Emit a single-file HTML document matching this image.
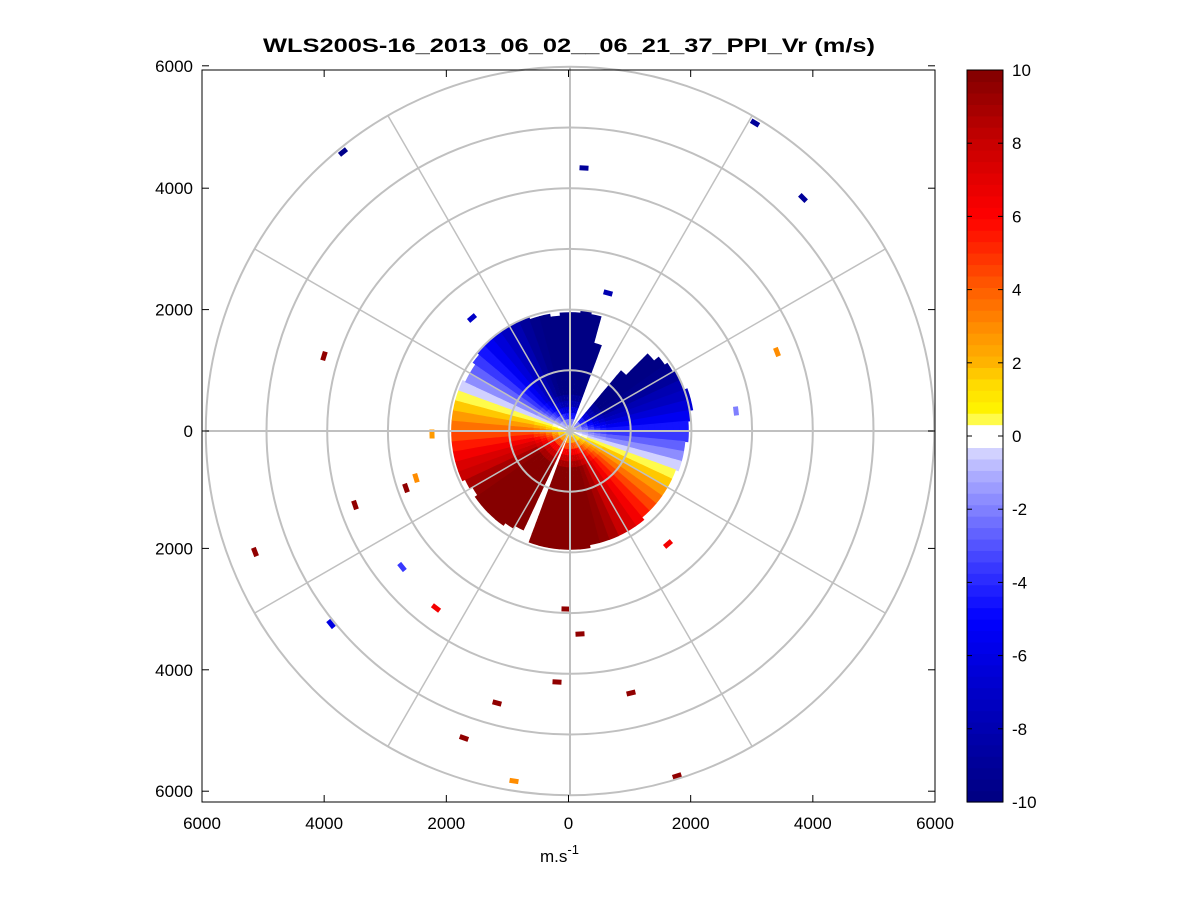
<!DOCTYPE html>
<html><head><meta charset="utf-8"><style>
html,body{margin:0;padding:0;background:#fff;}
svg{display:block;font-family:"Liberation Sans",Arial,sans-serif;}
</style></head><body>
<svg id="chart" width="1201" height="901" viewBox="0 0 1201 901" xmlns="http://www.w3.org/2000/svg">
<rect x="0" y="0" width="1201" height="901" fill="#fff"/>
<text x="569" y="52" text-anchor="middle" font-size="19" font-weight="bold" textLength="612" lengthAdjust="spacingAndGlyphs">WLS200S-16_2013_06_02__06_21_37_PPI_Vr (m/s)</text>
<g id="data"></g>
<g id="speck"></g>
<g id="grid"></g>
<g id="axes"></g>
<g id="cbar"></g>
<text x="540" y="862" font-size="17">m.s<tspan dy="-8" font-size="13">-1</tspan></text>
</svg>
<script>
// ---- data ----
const azBinDeg = 5;
const velocity = [-10,-10,-10,-10,-10,-10,-10,-10,-10,-10,-10,-9.5,-8.8,-8.1,-7.3,-6.4,-5.5,-4.6,-3.6,-2.6,-1.6,-0.5,0.5,1.6,2.6,3.6,4.6,5.5,6.4,7.3,8.1,8.8,9.5,10,10,10,10,10,10,10,10,10,10,10,10,10,10,9.5,8.8,8.1,7.3,6.4,5.5,4.6,3.6,2.6,1.6,0.5,-0.5,-1.6,-2.6,-3.6,-4.6,-5.5,-6.4,-7.3,-8.1,-8.8,-9.5,-10,-10,-10];
const maxRange = [1950,2000,1950,1500,0,0,0,0,1300,1800,1900,1950,2000,2000,2050,2050,2000,1950,1950,1900,1900,1900,1850,1850,1850,1850,1850,1850,1900,1900,1900,1900,1900,1900,1950,1950,1950,1950,1950,1950,0,1800,1850,1900,1900,1900,1900,1850,1900,1950,1950,1950,1950,1950,1950,1950,1950,1950,1950,1900,1900,1950,2000,2000,2000,2000,2000,2000,1950,1950,1900,1950];
const gateM = 100;
const rangeGain = [0.1,0.25,0.45,0.65,0.8,0.9,1,1,1,1,1,1,1,1,1,1,1,1,1,1,1];
const speckX = [-3740,231,3048,3839,-4053,3410,2735,-3542,-2702,-5189,-2768,-2208,-3937,-66,165,-214,-1203,-1746,1005,1763,-923,-2537,-2273,1614,-1614,626];
const speckY = [4596,4333,5074,3839,1236,1301,329,-1219,-939,-1993,-2241,-2916,-3180,-2932,-3344,-4135,-4481,-5058,-4316,-5684,-5766,-774,-49,-1862,1862,2273];
const speckV = [-9.5,-9,-9,-9,9.5,3,-2,9.5,9.5,9.5,-3.5,6.5,-6,9.5,9.5,9.5,9.5,9.5,9.5,9.5,3,3,2.5,6.5,-7,-8];
const xTicks = [-6000,-4000,-2000,0,2000,4000,6000];
const yTicks = [6000,4000,2000,0,-2000,-4000,-6000];
const cbTicks = [10,8,6,4,2,0,-2,-4,-6,-8,-10];
const ringsM = [1000,2000,3000,4000,5000,6000];
const spokesDeg = [0,30,60,90,120,150];

// ---- geometry ----
const NS = "http://www.w3.org/2000/svg";
const cx = 570, cy = 431, pxPerM = 60.7/1000;
const ax = {x0:202, x1:935, y0:70, y1:802};
const sx = m => cx + m*pxPerM;
const sy = m => cy - m*pxPerM;
function pol(az, r){ const a = az*Math.PI/180; return [cx + r*pxPerM*Math.sin(a), cy - r*pxPerM*Math.cos(a)]; }
function mk(tag, attrs, parent){ const e = document.createElementNS(NS, tag); for (const k in attrs) e.setAttribute(k, attrs[k]); parent.appendChild(e); return e; }

// colormap (64 levels)
const anchorsV = [-10,-7,-5,-3.5,-2,-1,-0.3,0,0.3,0.7,1.5,2,3,4,5,6,8,10];
const anchorsC = [[0,0,128],[0,0,200],[0,0,255],[60,60,255],[128,128,255],[175,175,255],[220,220,255],[255,255,255],[255,255,128],[255,245,0],[255,215,0],[255,180,0],[255,140,0],[255,95,0],[255,45,0],[255,0,0],[200,0,0],[128,0,0]];
function interpC(v){
  for (let i=0;i<anchorsV.length-1;i++){
    if (v<=anchorsV[i+1]){ const t=(v-anchorsV[i])/(anchorsV[i+1]-anchorsV[i]);
      const c=anchorsC[i].map((a,j)=>Math.round(a+(anchorsC[i+1][j]-a)*t)); return `rgb(${c[0]},${c[1]},${c[2]})`; }
  }
  return 'rgb(128,0,0)';
}
const cmap = [];
for (let i=0;i<64;i++){ const v=-10+(i+0.5)*20/64; cmap.push(interpC(v)); }
function col(v){ let i=Math.floor((v+10)/20*64); i=Math.max(0,Math.min(63,i)); if (Math.abs(v)<0.2) return '#ffffff'; return cmap[i]; }

// ---- velocity field ----
const dg = document.getElementById('data');
velocity.forEach((v,k)=>{
  const a0=k*azBinDeg, a1=(k+1)*azBinDeg+0.4;
  const rmax = maxRange[k];
  for (let g=0; g*gateM < rmax; g++){
    const r0=g*gateM, r1=Math.min(rmax,(g+1)*gateM)+8;
    const val = v*rangeGain[Math.min(g,rangeGain.length-1)];
    const p1=pol(a0,r0), p2=pol(a0,r1), p3=pol(a1,r1), p4=pol(a1,r0);
    const R1=r1*pxPerM, R0=r0*pxPerM;
    const d=`M${p1[0].toFixed(1)},${p1[1].toFixed(1)}L${p2[0].toFixed(1)},${p2[1].toFixed(1)}A${R1.toFixed(1)},${R1.toFixed(1)} 0 0 1 ${p3[0].toFixed(1)},${p3[1].toFixed(1)}L${p4[0].toFixed(1)},${p4[1].toFixed(1)}Z`;
    const e = mk('path',{d:d,fill:col(val)},dg);
    
    
  }
});

// ---- speckles ----
const sg = document.getElementById('speck');
speckX.forEach((x,i)=>{
  const px=sx(x), py=sy(speckY[i]);
  const az=Math.atan2(x,speckY[i])*180/Math.PI;
  const e = mk('rect',{x:(px-4.5).toFixed(1),y:(py-2.5).toFixed(1),width:9,height:5,fill:col(speckV[i]),transform:`rotate(${az.toFixed(1)} ${px.toFixed(1)} ${py.toFixed(1)})`},sg);
  
  
});

// ---- polar grid ----
const gg = document.getElementById('grid');
ringsM.forEach(r=>{
  const e = mk('circle',{cx:cx,cy:cy,r:(r*pxPerM).toFixed(1),fill:'none',stroke:'#c0c0c0','stroke-width':2},gg);
  
  
});
spokesDeg.forEach(a=>{
  const p=pol(a,6000), q=pol(a+180,6000);
  const e = mk('line',{x1:p[0],y1:p[1],x2:q[0],y2:q[1],stroke:'#c0c0c0','stroke-width':(a%90===0)?2:1.5},gg);
  
  
});

// ---- axes ----
const ag = document.getElementById('axes');
const box = mk('rect',{x:ax.x0,y:ax.y0,width:ax.x1-ax.x0,height:ax.y1-ax.y0,fill:'none',stroke:'#000','stroke-width':1},ag);


xTicks.forEach(t=>{
  const x = ax.x0 + (t+6000)/12000*(ax.x1-ax.x0);
  mk('line',{x1:x,y1:ax.y1,x2:x,y2:ax.y1-7,stroke:'#000'},ag);
  mk('line',{x1:x,y1:ax.y0,x2:x,y2:ax.y0+7,stroke:'#000'},ag);
  const e = mk('text',{x:x,y:ax.y1+27,'text-anchor':'middle','font-size':17},ag);
  e.textContent = Math.abs(t);
  
  
});
yTicks.forEach(t=>{
  const y = sy(t) + (t<0?-4:0) + (t===6000?-1:0);
  mk('line',{x1:ax.x0,y1:y,x2:ax.x0+7,y2:y,stroke:'#000'},ag);
  mk('line',{x1:ax.x1,y1:y,x2:ax.x1-7,y2:y,stroke:'#000'},ag);
  const e = mk('text',{x:193,y:y+6,'text-anchor':'end','font-size':17},ag);
  e.textContent = Math.abs(t);
  
  
});

// ---- colorbar ----
const cg = document.getElementById('cbar');
const cb = {x0:967,x1:1003,y0:70,y1:802};
for (let i=0;i<64;i++){
  const y1 = cb.y1 - i*(cb.y1-cb.y0)/64;
  const y0 = cb.y1 - (i+1)*(cb.y1-cb.y0)/64;
  const v = -10+(i+0.5)*20/64;
  const e = mk('rect',{x:cb.x0,y:y0.toFixed(2),width:cb.x1-cb.x0,height:(y1-y0+0.6).toFixed(2),fill:(i===31||i===32)?(i===32?'#ffffff':'#ffffff'):cmap[i]},cg);
  
  
}
const cbb = mk('rect',{x:cb.x0,y:cb.y0,width:cb.x1-cb.x0,height:cb.y1-cb.y0,fill:'none',stroke:'#000'},cg);


cbTicks.forEach(t=>{
  const y = cb.y1 - (t+10)/20*(cb.y1-cb.y0);
  mk('line',{x1:cb.x0,y1:y,x2:cb.x0+5,y2:y,stroke:'#000'},cg);
  mk('line',{x1:cb.x1,y1:y,x2:cb.x1-5,y2:y,stroke:'#000'},cg);
  const e = mk('text',{x:1012,y:y+6,'font-size':17},cg);
  e.textContent = t;
  
  
});
</script>
</body></html>
